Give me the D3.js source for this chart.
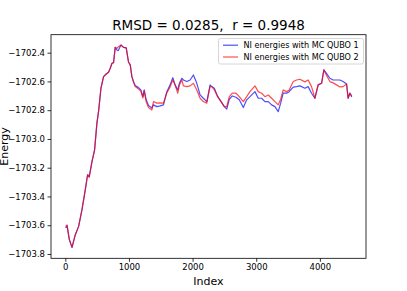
<!DOCTYPE html>
<html>
<head>
<meta charset="utf-8">
<script src="https://cdn.jsdelivr.net/npm/d3@7"></script>
<style>
  html, body { margin: 0; padding: 0; background: #fff; }
  svg { display: block; font-family: "DejaVu Sans", sans-serif; }
</style>
</head>
<body>
<svg id="chart" width="407" height="291"></svg>
<script>
const titleText = "RMSD = 0.0285,  r = 0.9948";
const xLabel = "Index";
const yLabel = "Energy";
const seriesNames = ["NI energies with MC QUBO 1", "NI energies with MC QUBO 2"];
const xTicks = [0, 1000, 2000, 3000, 4000];
const yTicks = [-1703.8, -1703.6, -1703.4, -1703.2, -1703.0, -1702.8, -1702.6, -1702.4];

const index = [5, 27, 63, 105, 157, 209, 262, 314, 350, 376, 419, 460, 497, 522, 560, 601, 638, 679, 706, 733,
  758, 784, 811, 831, 874, 915, 957, 993, 1020, 1046, 1071, 1098, 1150, 1187, 1219, 1239, 1271, 1307, 1360, 1385,
  1438, 1490, 1542, 1595, 1647, 1689, 1725, 1767, 1793, 1831, 1856, 1909, 1961, 2013, 2066, 2118, 2169, 2223, 2275, 2301,
  2342, 2395, 2447, 2499, 2536, 2577, 2624, 2682, 2734, 2797, 2850, 2902, 2980, 3032, 3085, 3137, 3189, 3242, 3294, 3346,
  3384, 3424, 3478, 3518, 3581, 3635, 3686, 3765, 3816, 3869, 3922, 3973, 4027, 4063, 4110, 4157, 4209, 4262, 4314, 4366,
  4420, 4444, 4471, 4502];

const qubo1 = [-1703.619, -1703.603, -1703.700, -1703.754, -1703.666, -1703.608, -1703.492, -1703.353, -1703.249, -1703.261,
  -1703.157, -1703.076, -1702.888, -1702.810, -1702.647, -1702.567, -1702.550, -1702.536, -1702.508, -1702.474,
  -1702.469, -1702.363, -1702.381, -1702.386, -1702.347, -1702.363, -1702.367, -1702.465, -1702.485, -1702.567,
  -1702.601, -1702.629, -1702.643, -1702.659, -1702.706, -1702.659, -1702.728, -1702.768, -1702.784, -1702.763,
  -1702.775, -1702.770, -1702.763, -1702.671, -1702.624, -1702.574, -1702.624, -1702.659, -1702.612, -1702.578,
  -1702.590, -1702.601, -1702.590, -1702.555, -1702.613, -1702.694, -1702.717, -1702.740, -1702.624, -1702.636,
  -1702.647, -1702.706, -1702.740, -1702.775, -1702.793, -1702.724, -1702.701, -1702.710, -1702.728, -1702.781,
  -1702.728, -1702.706, -1702.671, -1702.717, -1702.717, -1702.740, -1702.740, -1702.763, -1702.775, -1702.810,
  -1702.751, -1702.682, -1702.682, -1702.671, -1702.640, -1702.636, -1702.631, -1702.647, -1702.636, -1702.682,
  -1702.717, -1702.624, -1702.613, -1702.520, -1702.548, -1702.578, -1702.590, -1702.590, -1702.590, -1702.601,
  -1702.618, -1702.717, -1702.682, -1702.708];

const qubo2 = [-1703.610, -1703.598, -1703.700, -1703.754, -1703.666, -1703.608, -1703.492, -1703.353, -1703.249, -1703.268,
  -1703.157, -1703.076, -1702.888, -1702.810, -1702.647, -1702.567, -1702.550, -1702.536, -1702.508, -1702.474,
  -1702.469, -1702.363, -1702.370, -1702.360, -1702.347, -1702.363, -1702.367, -1702.465, -1702.485, -1702.567,
  -1702.605, -1702.636, -1702.652, -1702.669, -1702.715, -1702.666, -1702.742, -1702.782, -1702.798, -1702.740,
  -1702.751, -1702.749, -1702.751, -1702.680, -1702.638, -1702.590, -1702.624, -1702.682, -1702.624, -1702.590,
  -1702.631, -1702.636, -1702.631, -1702.613, -1702.659, -1702.717, -1702.740, -1702.751, -1702.636, -1702.636,
  -1702.659, -1702.706, -1702.740, -1702.775, -1702.775, -1702.706, -1702.682, -1702.682, -1702.706, -1702.740,
  -1702.706, -1702.671, -1702.631, -1702.671, -1702.682, -1702.706, -1702.694, -1702.717, -1702.740, -1702.763,
  -1702.724, -1702.659, -1702.671, -1702.659, -1702.601, -1702.590, -1702.585, -1702.603, -1702.590, -1702.636,
  -1702.717, -1702.624, -1702.613, -1702.520, -1702.562, -1702.601, -1702.610, -1702.624, -1702.638, -1702.636,
  -1702.618, -1702.717, -1702.682, -1702.700];

const colors = ["#0000ff", "#ff0000"];

const svg = d3.select("#chart");
const mLeft = 51, mRight = 366, mTop = 34.7, mBottom = 258.3;

const x = d3.scaleLinear().domain([-225, 4725]).range([mLeft, mRight]);
const y = d3.scaleLinear().domain([-1703.83, -1702.275]).range([mBottom, mTop]);

// lines
const series = [qubo1, qubo2];
const line = d3.line().x(d => x(d[0])).y(d => y(d[1]));
const plot = svg.append("g");
series.forEach((vals, i) => {
  plot.append("path")
    .datum(index.map((t, k) => [t, vals[k]]))
    .attr("fill", "none")
    .attr("stroke", colors[i])
    .attr("stroke-opacity", 0.7)
    .attr("stroke-width", 1.2)
    .attr("stroke-linejoin", "round")
    .attr("d", line);
});

// axes
const fmtY = d3.format(".1f");
const xAxis = d3.axisBottom(x).tickValues(xTicks).tickSize(3.5).tickPadding(2.5).tickFormat(d3.format("d"));
const yAxis = d3.axisLeft(y).tickValues(yTicks).tickSize(3.5).tickPadding(2.5).tickFormat(fmtY);

const gx = svg.append("g").attr("transform", `translate(0,${mBottom})`).call(xAxis);
const gy = svg.append("g").attr("transform", `translate(${mLeft},0)`).call(yAxis);
[gx, gy].forEach(g => {
  g.select(".domain").remove();
  g.selectAll(".tick line").attr("stroke", "#000").attr("stroke-width", 0.8);
  g.selectAll(".tick text").attr("fill", "#000").attr("font-size", 8.5).attr("font-family", "DejaVu Sans");
});

// frame
svg.append("rect")
  .attr("x", mLeft).attr("y", mTop)
  .attr("width", mRight - mLeft).attr("height", mBottom - mTop)
  .attr("fill", "none").attr("stroke", "#000").attr("stroke-width", 0.8);

// title
svg.append("text")
  .attr("x", (mLeft + mRight) / 2).attr("y", 29.5)
  .attr("text-anchor", "middle")
  .attr("font-size", 13.5)
  .attr("fill", "#000")
  .style("white-space", "pre")
  .text(titleText);

// x label
svg.append("text")
  .attr("x", (mLeft + mRight) / 2).attr("y", 284.5)
  .attr("text-anchor", "middle")
  .attr("font-size", 11)
  .attr("fill", "#000")
  .text(xLabel);

// y label
svg.append("text")
  .attr("transform", `translate(7.5,${(mTop + mBottom) / 2}) rotate(-90)`)
  .attr("text-anchor", "middle")
  .attr("font-size", 11)
  .attr("fill", "#000")
  .text(yLabel);

// legend
const lg = svg.append("g");
lg.append("rect")
  .attr("x", 218.5).attr("y", 38.5)
  .attr("width", 145).attr("height", 25.5)
  .attr("rx", 2)
  .attr("fill", "#fff").attr("fill-opacity", 0.8)
  .attr("stroke", "#ccc").attr("stroke-width", 0.8);
seriesNames.forEach((name, i) => {
  const yy = 45.2 + i * 11.8;
  lg.append("line")
    .attr("x1", 223).attr("x2", 238)
    .attr("y1", yy).attr("y2", yy)
    .attr("stroke", colors[i]).attr("stroke-opacity", 0.7).attr("stroke-width", 1.2);
  lg.append("text")
    .attr("x", 243.5).attr("y", yy)
    .attr("dy", "0.35em")
    .attr("font-size", 8.1)
    .attr("fill", "#000")
    .text(name);
});
</script>
</body>
</html>
